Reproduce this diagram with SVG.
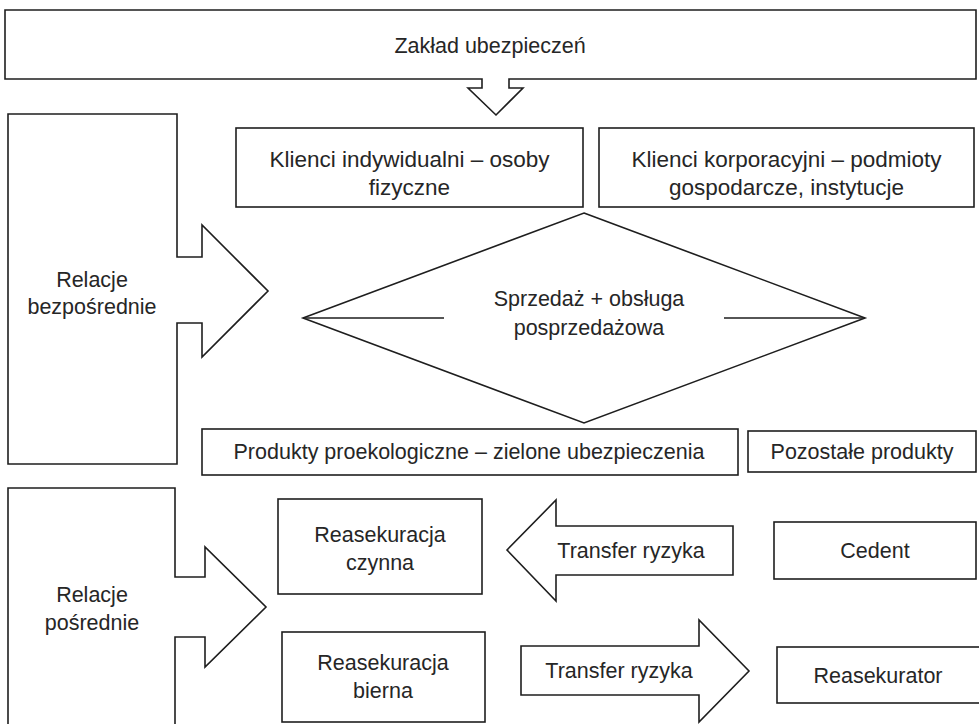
<svg xmlns="http://www.w3.org/2000/svg" width="979" height="724" viewBox="0 0 979 724">
  <style>
    .shape { fill: #ffffff; stroke: #1e1e1e; stroke-width: 1.6; stroke-linejoin: miter; }
    .line { fill: none; stroke: #1e1e1e; stroke-width: 1.6; }
    text { font-family: "Liberation Sans", Arial, sans-serif; font-size: 21.5px; fill: #262626; text-anchor: middle; }
    .wide { font-size: 22.5px; }
  </style>
  <rect width="979" height="724" fill="#ffffff"/>

  <!-- Insurer header box with its downward block arrow -->
  <g id="zaklad">
    <path class="shape" d="M482,79 H5 V10 H976 V79 H509 V88 H523 L496,115 L468,88 H482 Z"/>
    <text x="490" y="53">Zakład ubezpieczeń</text>
  </g>

  <!-- Direct relations panel with block arrow -->
  <g id="relacje-bezposrednie">
    <path class="shape" d="M8,114 H177 V257 H202 V225 L268,291 L202,357 V323 H177 V464 H8 Z"/>
    <text x="92" y="287">Relacje</text>
    <text x="92" y="314">bezpośrednie</text>
  </g>

  <g id="klienci-indywidualni">
    <rect class="shape" x="236" y="128" width="347" height="79"/>
    <text class="wide" x="409.5" y="167">Klienci indywidualni – osoby</text>
    <text class="wide" x="409.5" y="195">fizyczne</text>
  </g>

  <g id="klienci-korporacyjni">
    <rect class="shape" x="599" y="128" width="375" height="79"/>
    <text class="wide" x="786.5" y="167">Klienci korporacyjni – podmioty</text>
    <text class="wide" x="786.5" y="195">gospodarcze, instytucje</text>
  </g>

  <g id="sprzedaz">
    <polygon class="shape" points="584,213 865,318 584,423 303,318"/>
    <text x="589" y="306">Sprzedaż + obsługa</text>
    <text x="589" y="335">posprzedażowa</text>
  </g>

  <g id="produkty-proekologiczne">
    <rect class="shape" x="202" y="429" width="536" height="46"/>
    <text x="469" y="459">Produkty proekologiczne – zielone ubezpieczenia</text>
  </g>

  <g id="pozostale-produkty">
    <rect class="shape" x="748" y="431" width="228" height="41"/>
    <text x="862" y="459">Pozostałe produkty</text>
  </g>

  <!-- Indirect relations panel with block arrow (runs past the lower edge) -->
  <g id="relacje-posrednie">
    <path class="shape" d="M8,740 V488 H175 V577 H205 V547 L266,607 L205,667 V637 H175 V740"/>
    <text x="92" y="602">Relacje</text>
    <text x="92" y="630">pośrednie</text>
  </g>

  <g id="reasekuracja-czynna">
    <rect class="shape" x="278" y="499" width="204" height="95"/>
    <text x="380" y="542">Reasekuracja</text>
    <text x="380" y="570">czynna</text>
  </g>

  <g id="transfer-lewo">
    <path class="shape" d="M507,550 L556,500 V526 H733 V575 H556 V601 Z"/>
    <text x="631" y="558">Transfer ryzyka</text>
  </g>

  <g id="cedent">
    <rect class="shape" x="774" y="522" width="202" height="57"/>
    <text x="875" y="558">Cedent</text>
  </g>

  <g id="reasekuracja-bierna">
    <rect class="shape" x="282" y="632" width="203" height="90"/>
    <text x="383" y="670">Reasekuracja</text>
    <text x="383" y="698">bierna</text>
  </g>

  <g id="transfer-prawo">
    <path class="shape" d="M521,646 H699 V620 L749,671 L699,722 V695 H521 Z"/>
    <text x="619" y="678">Transfer ryzyka</text>
  </g>

  <g id="reasekurator">
    <rect class="shape" x="777" y="647" width="210" height="56"/>
    <text x="878" y="683">Reasekurator</text>
  </g>

  <!-- Horizontal strokes inside the sales diamond -->
  <g id="connectors">
    <line class="line" x1="303" y1="318" x2="444" y2="318"/>
    <line class="line" x1="724" y1="318" x2="865" y2="318"/>
  </g>
</svg>
